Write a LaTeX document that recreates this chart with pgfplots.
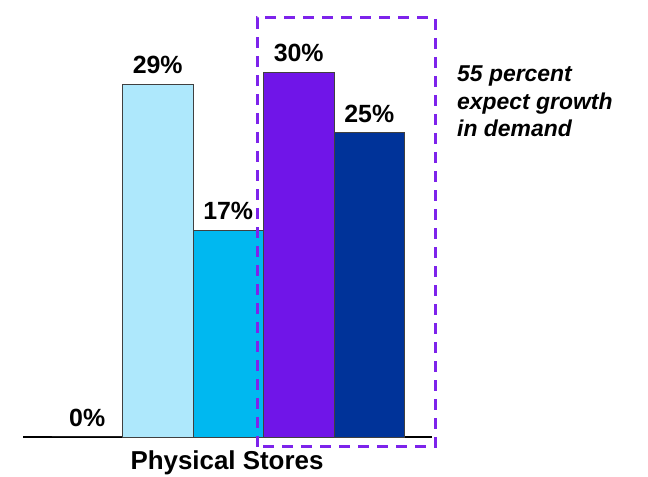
\documentclass[border=0pt]{standalone}
\usepackage{fontspec}
\setmainfont{Liberation Sans}
\usepackage{pgfplots}
\pgfplotsset{compat=1.18}
\definecolor{lightb}{RGB}{174,232,252}
\definecolor{cyanb}{RGB}{0,184,240}
\definecolor{purpb}{RGB}{112,21,232}
\definecolor{darkb}{RGB}{0,51,153}
\definecolor{boxc}{RGB}{125,35,235}
\begin{document}
\begin{tikzpicture}[x=1bp,y=1bp]
\useasboundingbox (0,0) rectangle (648,477);
\begin{axis}[
  at={(23bp,40bp)}, anchor=south west,
  scale only axis, width=409bp, height=426bp,
  xmin=-0.91, xmax=4.89, ymin=0, ymax=35,
  axis x line=bottom, axis y line=none,
  x axis line style={-, line width=1.4pt, black},
  xtick=\empty, ytick=\empty,
  clip=false,
  /pgf/number format/assume math mode=true,
  every axis plot/.append style={ybar, bar width=1, bar shift=0pt, draw=black!75, line width=0.5pt},
  nodes near coords={\pgfmathprintnumber{\pgfplotspointmeta}\%},
  every node near coord/.append style={font=\fontsize{25}{28}\selectfont\bfseries, inner sep=0pt, anchor=south, yshift=10bp, black},
]
\addplot[fill=white, draw=none] coordinates {(0,0)};
\addplot[fill=lightb] coordinates {(1,29)};
\addplot[fill=cyanb] coordinates {(2,17)};
\addplot[fill=purpb] coordinates {(3,30)};
\addplot[fill=darkb] coordinates {(4,25)};
\end{axis}
\draw[boxc, line width=3bp, dash pattern=on 11bp off 8bp] (257,30) rectangle (435,459);
\node[anchor=base west, align=left, inner sep=0pt, font=\fontsize{23}{28}\selectfont\bfseries\itshape] at (457,340) {55 percent\\expect growth\\in demand};
\node[anchor=base, inner sep=0pt, font=\fontsize{26}{28}\selectfont\bfseries] at (227,7) {Physical Stores};
\end{tikzpicture}
\end{document}
